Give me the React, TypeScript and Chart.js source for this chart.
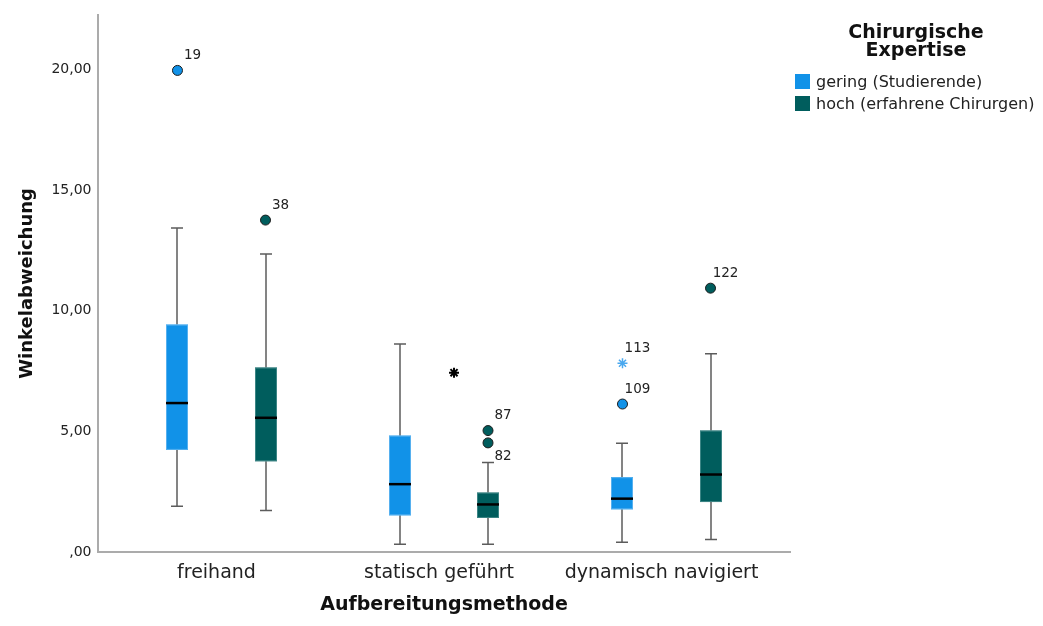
import React, { useEffect, useRef } from 'react';
import { Chart, registerables } from 'chart.js';

Chart.register(...registerables);

// ---------- data ----------
const categories = ['freihand', 'statisch geführt', 'dynamisch navigiert'];
const groupLabels = ['gering (Studierende)', 'hoch (erfahrene Chirurgen)'];
const legendTitle = ['Chirurgische', 'Expertise'];
const xAxisTitle = 'Aufbereitungsmethode';
const yAxisTitle = 'Winkelabweichung';
const yTickValues = [0, 5, 10, 15, 20];

const geringLowerWhisker = [1.9, 0.32, 0.4];
const geringQ1 = [4.23, 1.52, 1.77];
const geringMedian = [6.17, 2.81, 2.21];
const geringQ3 = [9.42, 4.82, 3.1];
const geringUpperWhisker = [13.42, 8.62, 4.5];

const hochLowerWhisker = [1.72, 0.32, 0.52];
const hochQ1 = [3.76, 1.41, 2.07];
const hochMedian = [5.56, 1.97, 3.21];
const hochQ3 = [7.64, 2.46, 5.03];
const hochUpperWhisker = [12.35, 3.71, 8.21];

const geringOutlierCategory = [0, 2];
const geringOutlierValue = [19.95, 6.13];
const geringOutlierCase = ['19', '109'];

const geringExtremeCategory = [2];
const geringExtremeValue = [7.82];
const geringExtremeCase = ['113'];

const hochOutlierCategory = [0, 1, 1, 2];
const hochOutlierValue = [13.75, 5.03, 4.52, 10.93];
const hochOutlierCase = ['38', '87', '82', '122'];

const unlabeledExtremeCategory = [1];
const unlabeledExtremeValue = [7.43];

// ---------- style ----------
const FONT = "'DejaVu Sans', sans-serif";
const BLUE = '#1192e8';
const BLUE_EDGE = '#56b0ef';
const TEAL = '#005d5d';
const TEAL_EDGE = '#3c8585';
const STAR_BLUE = '#4aa8ee';
const groupColors = [BLUE, TEAL];
const groupEdges = [BLUE_EDGE, TEAL_EDGE];
const groupOffsets = [-0.1978, 0.1978];
const unlabeledExtremeOffset = 0.045;
const casesLabelledBelow = ['82'];
const BOX_HALF = 11;
const CAP_HALF = 6;
const Y_MAX = 22.25;
const X_MIN = -0.555;
const X_MAX = 2.555;

const groups = [
  { low: geringLowerWhisker, q1: geringQ1, med: geringMedian, q3: geringQ3, high: geringUpperWhisker },
  { low: hochLowerWhisker, q1: hochQ1, med: hochMedian, q3: hochQ3, high: hochUpperWhisker },
];

const pts = (cats: number[], vals: number[], gi: number) =>
  cats.map((c, k) => ({ x: c + groupOffsets[gi], y: vals[k] }));

const boxPlugin = {
  id: 'boxes',
  beforeDatasetsDraw(chart: any) {
    const { ctx } = chart;
    const x = chart.scales.x;
    const y = chart.scales.y;
    groups.forEach((g, gi) => {
      categories.forEach((_, i) => {
        const cx = Math.round(x.getPixelForValue(i + groupOffsets[gi]));
        const yLo = y.getPixelForValue(g.low[i]);
        const yQ1 = y.getPixelForValue(g.q1[i]);
        const yMed = y.getPixelForValue(g.med[i]);
        const yQ3 = y.getPixelForValue(g.q3[i]);
        const yHi = y.getPixelForValue(g.high[i]);
        ctx.save();
        ctx.strokeStyle = '#5c5c5c';
        ctx.lineWidth = 1.5;
        ctx.beginPath();
        ctx.moveTo(cx, yHi);
        ctx.lineTo(cx, yQ3);
        ctx.moveTo(cx, yQ1);
        ctx.lineTo(cx, yLo);
        ctx.moveTo(cx - CAP_HALF, yHi);
        ctx.lineTo(cx + CAP_HALF, yHi);
        ctx.moveTo(cx - CAP_HALF, yLo);
        ctx.lineTo(cx + CAP_HALF, yLo);
        ctx.stroke();
        ctx.fillStyle = groupColors[gi];
        ctx.fillRect(cx - BOX_HALF, yQ3, BOX_HALF * 2, yQ1 - yQ3);
        ctx.strokeStyle = groupEdges[gi];
        ctx.lineWidth = 1;
        ctx.strokeRect(cx - BOX_HALF + 0.5, yQ3 + 0.5, BOX_HALF * 2 - 1, yQ1 - yQ3 - 1);
        ctx.strokeStyle = '#000';
        ctx.lineWidth = 2.5;
        ctx.beginPath();
        ctx.moveTo(cx - BOX_HALF, yMed);
        ctx.lineTo(cx + BOX_HALF, yMed);
        ctx.stroke();
        ctx.restore();
      });
    });
  },
  afterDatasetsDraw(chart: any) {
    const { ctx } = chart;
    ctx.save();
    ctx.font = `13.5px ${FONT}`;
    ctx.fillStyle = '#222';
    ctx.textAlign = 'center';
    ctx.textBaseline = 'middle';
    chart.data.datasets.forEach((ds: any, di: number) => {
      if (!ds.caseLabels) return;
      const meta = chart.getDatasetMeta(di);
      meta.data.forEach((el: any, k: number) => {
        const lab = ds.caseLabels[k];
        const below = casesLabelledBelow.includes(lab);
        ctx.fillText(lab, el.x + 15, el.y + (below ? 14 : -15));
      });
    });
    ctx.restore();
  },
  afterDraw(chart: any) {
    const { ctx } = chart;
    ctx.save();
    ctx.fillStyle = '#111';
    ctx.textAlign = 'center';
    ctx.textBaseline = 'alphabetic';
    ctx.font = `bold 19px ${FONT}`;
    ctx.fillText(legendTitle[0], 916, 38);
    ctx.fillText(legendTitle[1], 916, 56);
    ctx.textAlign = 'left';
    ctx.font = `16px ${FONT}`;
    groupLabels.forEach((lab, gi) => {
      const top = 74 + gi * 22;
      ctx.fillStyle = groupColors[gi];
      ctx.fillRect(795, top, 15, 15);
      ctx.fillStyle = '#222';
      ctx.fillText(lab, 816, top + 13);
    });
    ctx.restore();
  },
};

export default function App() {
  const ref = useRef<HTMLCanvasElement>(null);
  useEffect(() => {
    const canvas = ref.current;
    if (!canvas) return;
    Chart.defaults.font.family = FONT;
    const chart = new Chart(canvas, {
      type: 'scatter',
      data: {
        datasets: [
          {
            label: groupLabels[0],
            data: pts(geringOutlierCategory, geringOutlierValue, 0),
            caseLabels: geringOutlierCase,
            pointStyle: 'circle',
            pointRadius: 5,
            backgroundColor: BLUE,
            borderColor: '#1c1c1c',
            borderWidth: 1,
          } as any,
          {
            label: groupLabels[0] + ' extreme',
            data: pts(geringExtremeCategory, geringExtremeValue, 0),
            caseLabels: geringExtremeCase,
            pointStyle: 'star',
            pointRadius: 5,
            backgroundColor: STAR_BLUE,
            borderColor: STAR_BLUE,
            borderWidth: 1.5,
          } as any,
          {
            label: groupLabels[1],
            data: pts(hochOutlierCategory, hochOutlierValue, 1),
            caseLabels: hochOutlierCase,
            pointStyle: 'circle',
            pointRadius: 5,
            backgroundColor: TEAL,
            borderColor: '#1c1c1c',
            borderWidth: 1,
          } as any,
          {
            label: 'extreme',
            data: unlabeledExtremeCategory.map((c, k) => ({ x: c + unlabeledExtremeOffset, y: unlabeledExtremeValue[k] })),
            pointStyle: 'star',
            pointRadius: 5,
            backgroundColor: '#000',
            borderColor: '#000',
            borderWidth: 2,
          } as any,
        ],
      },
      options: {
        responsive: false,
        animation: false,
        events: [],
        layout: { padding: { top: 12, right: 253, left: 0, bottom: 0 } },
        plugins: { legend: { display: false }, tooltip: { enabled: false } },
        scales: {
          x: {
            type: 'linear',
            min: X_MIN,
            max: X_MAX,
            afterBuildTicks: (s: any) => {
              s.ticks = categories.map((_, i) => ({ value: i }));
            },
            afterFit: (s: any) => {
              s.height = 74;
            },
            grid: { display: false, drawTicks: false, tickLength: 0 },
            border: { display: true, color: '#ababab', width: 2 },
            ticks: {
              padding: 10,
              labelOffset: -5,
              color: '#222',
              font: { size: 19, family: FONT },
              maxRotation: 0,
              autoSkip: false,
              callback: (v: any) => categories[Math.round(Number(v))] ?? '',
            },
            title: {
              display: true,
              text: xAxisTitle,
              color: '#111',
              font: { size: 19, weight: 'bold', family: FONT },
              padding: { top: 0, bottom: 9.5 },
            },
          },
          y: {
            type: 'linear',
            min: 0,
            max: Y_MAX,
            afterBuildTicks: (s: any) => {
              s.ticks = yTickValues.map((v) => ({ value: v }));
            },
            afterFit: (s: any) => {
              s.width = 98;
            },
            grid: { display: false, drawTicks: false, tickLength: 0 },
            border: { display: true, color: '#ababab', width: 2 },
            ticks: {
              padding: 6.5,
              color: '#222',
              font: { size: 14, family: FONT },
              callback: (v: any) => (Number(v) === 0 ? ',00' : Number(v).toFixed(2).replace('.', ',')),
            },
            title: {
              display: true,
              text: yAxisTitle,
              color: '#111',
              font: { size: 18, weight: 'bold', family: FONT },
              padding: { top: 16.3, bottom: 0 },
            },
          },
        },
      } as any,
      plugins: [boxPlugin],
    });
    return () => chart.destroy();
  }, []);
  return (
    <div style={{ position: 'fixed', left: 0, top: 0, width: 1043, height: 626, background: '#fff' }}>
      <canvas ref={ref} width={1043} height={626} style={{ display: 'block', width: 1043, height: 626 }} />
    </div>
  );
}
